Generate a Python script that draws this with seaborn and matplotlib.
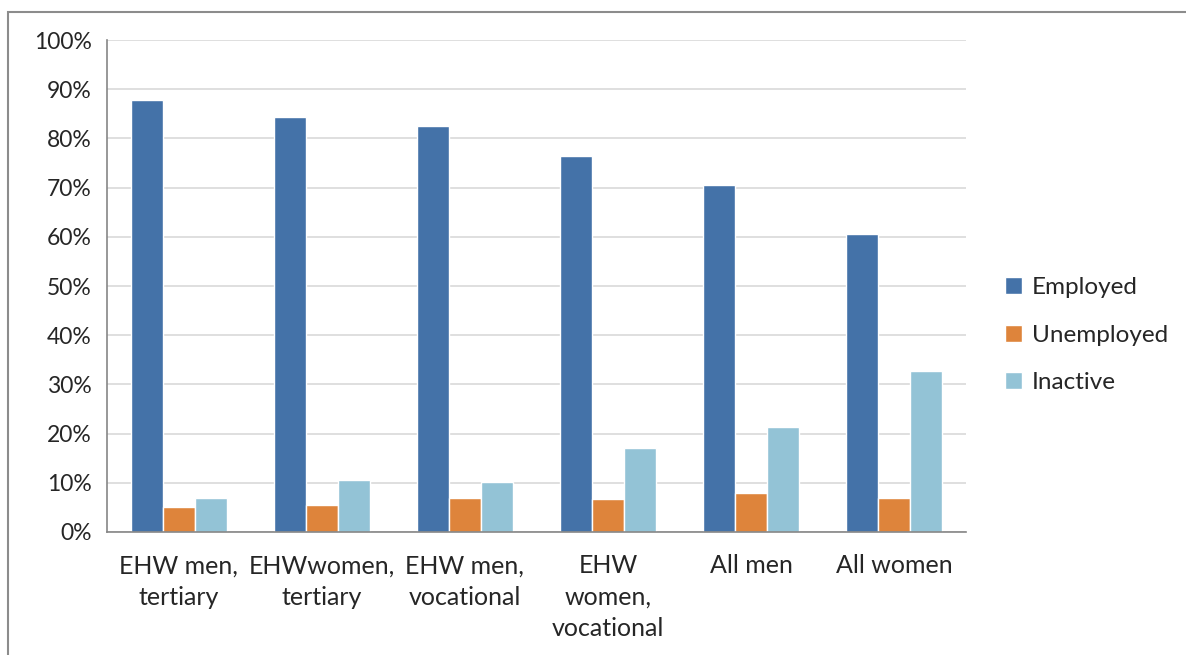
import pandas as pd
import matplotlib
matplotlib.use("Agg")
import matplotlib.pyplot as plt
import seaborn as sns
from matplotlib.patches import Rectangle
from matplotlib.ticker import FuncFormatter, FixedLocator

categories = ["EHW men,\ntertiary", "EHWwomen,\ntertiary", "EHW men,\nvocational",
              "EHW\nwomen,\nvocational", "All men", "All women"]
employed = [87.8, 84.3, 82.6, 76.5, 70.6, 60.5]
unemployed = [5.0, 5.4, 7.0, 6.7, 8.0, 7.0]
inactive = [7.0, 10.6, 10.2, 17.1, 21.3, 32.7]
series = ["Employed", "Unemployed", "Inactive"]
colors = ["#4472A8", "#DE843B", "#93C3D6"]

df = pd.DataFrame({"category": categories * 3,
                   "status": [s for s in series for _ in categories],
                   "value": employed + unemployed + inactive})

sns.set_style("white")
plt.rcParams['font.family'] = ['Lato', 'DejaVu Sans']

fig = plt.figure(figsize=(11.86, 6.55), dpi=100)
ax = fig.add_axes([0.0902, 0.1878, 0.7243, 0.7511])

sns.barplot(data=df, x="category", y="value", hue="status", palette=colors,
            width=0.67, saturation=1, ax=ax, legend=True)

ax.set_ylim(0, 100)
ax.set_xlim(-0.5, 5.5)
ax.set_yticks(range(0, 101, 10))
ax.yaxis.set_major_formatter(FuncFormatter(lambda v, p: f"{v:.0f}%"))
ax.grid(axis="y", color="#d9d9d9", linewidth=1.2)
ax.set_axisbelow(True)
ax.set_xlabel("")
ax.set_ylabel("")

for s in ["top", "right"]:
    ax.spines[s].set_visible(False)
for s in ["left", "bottom"]:
    ax.spines[s].set_color("#868686")
    ax.spines[s].set_linewidth(1.2)

ax.tick_params(axis="y", length=7, color="#868686", width=1.2, labelsize=16.5,
               labelcolor="#262626", pad=4)
ax.tick_params(axis="x", which="major", length=0, labelsize=18,
               labelcolor="#262626", pad=16)
for lbl in ax.get_xticklabels():
    lbl.set_linespacing(1.45)
ax.xaxis.set_minor_locator(FixedLocator([i - 0.5 for i in range(7)]))
ax.tick_params(axis="x", which="minor", length=8, color="#868686", width=1.2)

handles, labels = ax.get_legend_handles_labels()
ax.legend(handles, labels, loc="center left", bbox_to_anchor=(1.02, 0.40),
          frameon=False, fontsize=17.5, handlelength=0.7, handleheight=0.7,
          handletextpad=0.4, labelspacing=1.1, labelcolor="#262626")

fig.add_artist(Rectangle((8 / 1186, -0.05), 1.1, 1 - 12 / 655 + 0.05,
                         transform=fig.transFigure, fill=False,
                         edgecolor="#8c8c8c", linewidth=1.5))

fig.savefig("out.png", dpi=100)
